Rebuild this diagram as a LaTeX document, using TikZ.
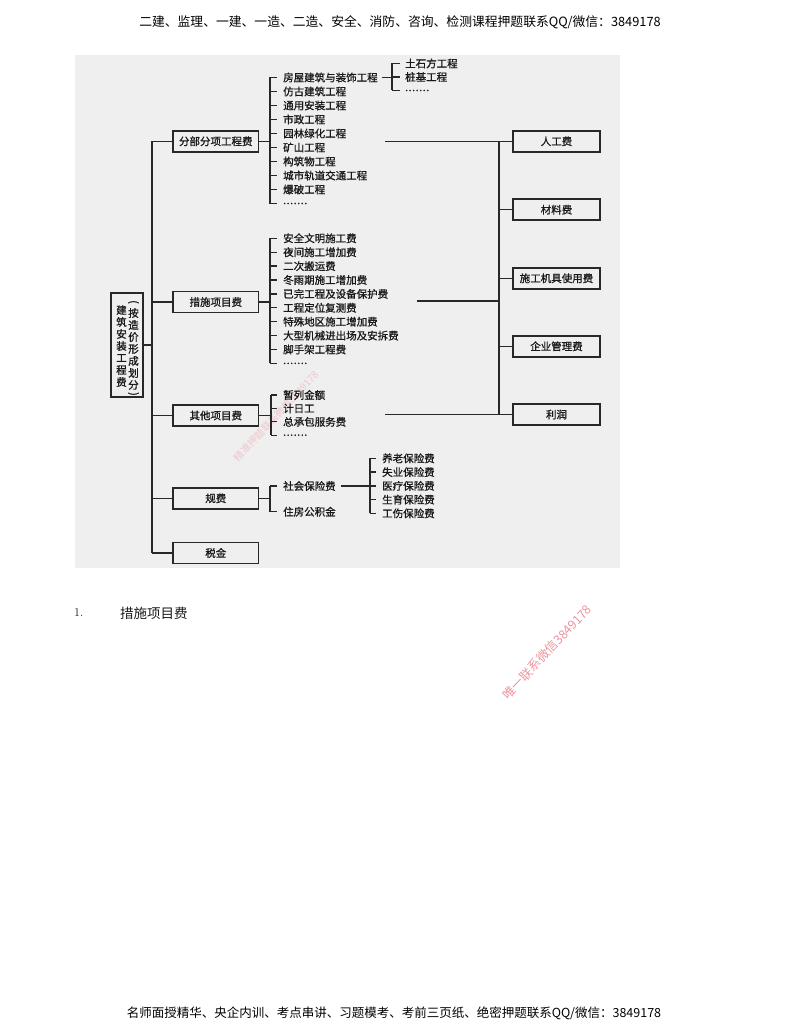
\documentclass[tikz,border=0pt]{standalone}
\usepackage{fontspec}
\newfontfamily\cjk{Noto Sans CJK SC}
\newfontfamily\cjkfb{Noto Sans CJK SC}[FakeBold=1]
\newcommand\dfont{\cjkfb\fontsize{10.5}{12}\selectfont}
\newcommand\sixdots{.\kern0.6pt.\kern0.6pt.\kern0.6pt.\kern0.6pt.\kern0.6pt.\kern0.6pt.}
\definecolor{bg}{RGB}{239,239,239}
\definecolor{linec}{RGB}{40,40,40}
\definecolor{txt}{RGB}{25,25,25}
\definecolor{wm}{RGB}{236,150,160}
\begin{document}
\begin{tikzpicture}[x=1pt,y=-1pt,
  ln/.style={draw=linec, line width=1.3pt},
  box/.style={draw=linec, line width=1.6pt, minimum height=21pt, inner sep=0pt, font=\dfont, text=txt},
  catbox/.style={box, minimum width=85.5pt},
  rbox/.style={box, minimum width=87pt},
  item/.style={anchor=west, inner sep=0pt, font=\dfont, text=txt},
  vch/.style={inner sep=0pt, font=\dfont, text=txt},
  hdr/.style={font=\cjk\fontsize{12.8}{15}\selectfont, text=black, inner sep=0pt},
  wmark/.style={text=wm, inner sep=0pt, rotate=47}
]
\useasboundingbox (0,0) rectangle (800,1035);
\fill[white] (0,0) rectangle (800,1035);
\fill[bg] (75,55) rectangle (620,568);

% header / footer
\node[hdr] (head) at (400,22) {二建、监理、一建、一造、二造、安全、消防、咨询、检测课程押题联系QQ/微信：3849178};
\node[hdr, font=\cjk\fontsize{12.5}{15}\selectfont] (foot) at (394,1013) {名师面授精华、央企内训、考点串讲、习题模考、考前三页纸、绝密押题联系QQ/微信：3849178};

% section title
\node[anchor=west, inner sep=0pt, font=\fontsize{12}{14}\selectfont, text=txt] (num) at (74,613) {1.};
\node[anchor=west, inner sep=0pt, font=\cjk\fontsize{13.5}{15}\selectfont, text=txt] (sec) at (120,613) {措施项目费};

% watermarks
\node[wmark, font=\cjk\fontsize{12.5}{14}\selectfont] (wm1) at (547,652) {唯一联系微信3849178};
\node[wmark, opacity=0.45, font=\cjk\fontsize{10}{12}\selectfont] (wm2) at (276,416) {精准押题联系微信3849178};

% root box
\node[draw=linec, line width=1.6pt, minimum width=32pt, minimum height=104pt, inner sep=0pt] (root) at (127,345) {};
\foreach \c [count=\i] in {建,筑,安,装,工,程,费}
  \node[vch] (l\i) at (121.5, 298+12*\i) {\c};
\node[vch, rotate=-90] (pl) at (133.5,302) {(};
\foreach \c [count=\i] in {按,造,价,形,成,划,分}
  \node[vch] (r\i) at (133.5, 301+12*\i) {\c};
\node[vch, rotate=-90] (pr) at (133.5,394) {)};

% category boxes
\node[catbox] (fb) at (215.8,141.3) {分部分项工程费};
\node[catbox] (cs) at (215.8,302) {措施项目费};
\node[catbox] (qt) at (215.8,415.5) {其他项目费};
\node[catbox] (gf) at (215.8,498.3) {规费};
\node[catbox] (sj) at (215.8,553) {税金};

% trunk
\coordinate (ttop) at (152,141.3);
\coordinate (tbot) at (152,553);
\draw[ln] (ttop) -- (tbot);
\draw[ln] (root.east) -- (ttop |- root.east);
\foreach \b in {fb,cs,qt,gf,sj}
  \draw[ln] (ttop |- \b.west) -- (\b.west);

% list A
\foreach \t [count=\i] in {房屋建筑与装饰工程,仿古建筑工程,通用安装工程,市政工程,园林绿化工程,矿山工程,构筑物工程,城市轨道交通工程,爆破工程,\sixdots}
  \node[item] (a\i) at (283, 63.5+14*\i) {\t};
\draw[ln] (270,0 |- a1.west) -- (270,0 |- a10.west);
\foreach \i in {1,...,10}
  \draw[ln] (270,0 |- a\i.west) -- ([xshift=-6pt]a\i.west);
\draw[ln] (fb.east) -- (270,0 |- fb.east);

% list A1
\foreach \t [count=\i] in {土石方工程,桩基工程,\sixdots}
  \node[item] (b\i) at (405, 50+13.5*\i) {\t};
\draw[ln] (392,0 |- b1.west) -- (392,0 |- b3.west);
\foreach \i in {1,2,3}
  \draw[ln] (392,0 |- b\i.west) -- ([xshift=-5pt]b\i.west);
\draw[ln] ([xshift=4pt]a1.east) -- (392,0 |- a1.east);

% list B
\foreach \t [count=\i] in {安全文明施工费,夜间施工增加费,二次搬运费,冬雨期施工增加费,已完工程及设备保护费,工程定位复测费,特殊地区施工增加费,大型机械进出场及安拆费,脚手架工程费,\sixdots}
  \node[item] (c\i) at (283, 224.4+13.9*\i) {\t};
\draw[ln] (270,0 |- c1.west) -- (270,0 |- c10.west);
\foreach \i in {1,...,10}
  \draw[ln] (270,0 |- c\i.west) -- ([xshift=-6pt]c\i.west);
\draw[ln] (cs.east) -- (270,0 |- cs.east);

% list C
\foreach \t [count=\i] in {暂列金额,计日工,总承包服务费,\sixdots}
  \node[item] (d\i) at (283, 381.6+13.4*\i) {\t};
\draw[ln] (271,0 |- d1.west) -- (271,0 |- d4.west);
\foreach \i in {1,...,4}
  \draw[ln] (271,0 |- d\i.west) -- ([xshift=-6pt]d\i.west);
\draw[ln] (qt.east) -- (271,0 |- qt.east);

% list D
\node[item] (e1) at (283,486) {社会保险费};
\node[item] (e2) at (283,511.7) {住房公积金};
\draw[ln] (270,0 |- e1.west) -- (270,0 |- e2.west);
\foreach \i in {1,2}
  \draw[ln] (270,0 |- e\i.west) -- ([xshift=-6pt]e\i.west);
\draw[ln] (gf.east) -- (270,0 |- gf.east);

% list E
\foreach \t [count=\i] in {养老保险费,失业保险费,医疗保险费,生育保险费,工伤保险费}
  \node[item] (f\i) at (382, 444.6+13.75*\i) {\t};
\draw[ln] (370,0 |- f1.west) -- (370,0 |- f5.west);
\foreach \i in {1,...,5}
  \draw[ln] (370,0 |- f\i.west) -- ([xshift=-6pt]f\i.west);
\draw[ln] ([xshift=5pt]e1.east) -- (370,0 |- e1.east);

% right boxes
\node[rbox] (rg) at (556.5,141.3) {人工费};
\node[rbox] (cl) at (556.5,209.7) {材料费};
\node[rbox] (jj) at (556.5,278.3) {施工机具使用费};
\node[rbox] (gl) at (556.5,346.3) {企业管理费};
\node[rbox] (lr) at (556.5,414.5) {利润};

% bus
\coordinate (btop) at (499,141.3);
\coordinate (bbot) at (499,414.5);
\draw[ln] (btop) -- (bbot);
\foreach \b in {rg,cl,jj,gl,lr}
  \draw[ln] (btop |- \b.west) -- (\b.west);
\coordinate (fa) at (385,141.3);
\coordinate (fc) at (417,301);
\coordinate (fd) at (385,414.5);
\draw[ln] (fa) -- (btop |- fa);
\draw[ln] (fc) -- (btop |- fc);
\draw[ln] (fd) -- (btop |- fd);
\end{tikzpicture}
\end{document}
